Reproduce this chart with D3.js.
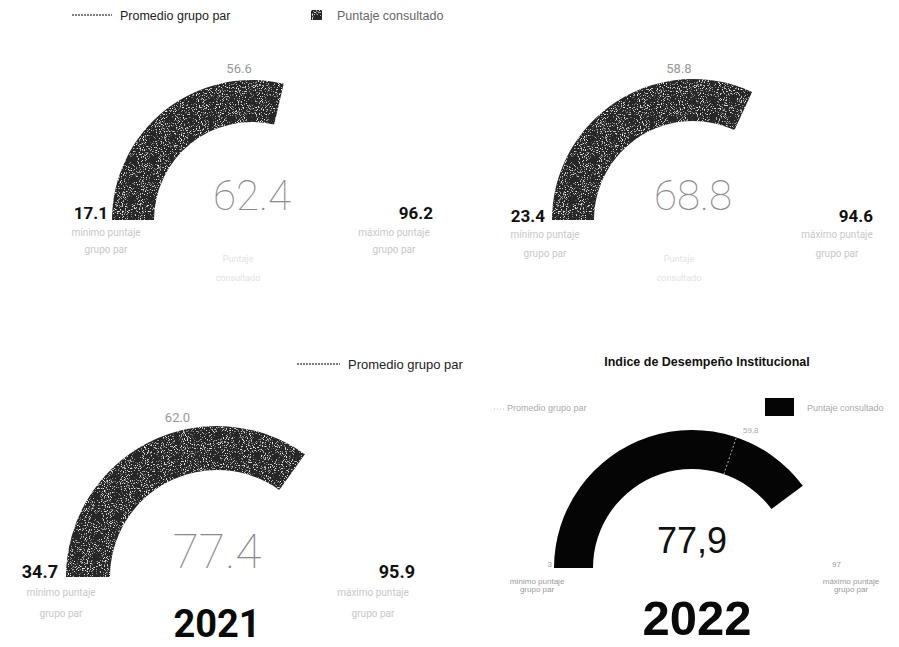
<!DOCTYPE html>
<html>
<head>
<meta charset="utf-8">
<script src="https://cdn.jsdelivr.net/npm/d3@7"></script>
<style>
  body { margin: 0; background: #fff; }
  svg { display: block; }
</style>
</head>
<body>
<svg id="chart" width="899" height="647"></svg>
<script>
// values (top-left, top-right, 2021, 2022)
var legendLabels = ["Promedio grupo par", "Puntaje consultado"];
var minVals   = [17.1, 23.4, 34.7, 3];
var maxVals   = [96.2, 94.6, 95.9, 97];
var scoreVals = [62.4, 68.8, 77.4, 77.9];
var avgVals   = [56.6, 58.8, 62.0, 59.8];
var yearLabels = [null, null, "2021", "2022"];
var minCaption = ["mínimo puntaje", "grupo par"];
var maxCaption = ["máximo puntaje", "grupo par"];
var scoreCaption = ["Puntaje", "consultado"];
var chartTitle = "Indice de Desempeño Institucional";

// layout of each gauge on the page
var layout = [
  {cx: 252, cy: 220, r0: 98,  r1: 140, grain: true,  fill: "#262626",
   numFont: 17, minEnd: 108, maxEnd: 433, numY: 219, subMin: 106, subMax: 394, subY: [236, 253],
   valY: 210, valFont: 42, avgAnchor: "end", avgY: 73, caption: true, dec: "."},
  {cx: 693, cy: 220, r0: 99,  r1: 141, grain: true,  fill: "#262626",
   numFont: 17, minEnd: 545, maxEnd: 873, numY: 222, subMin: 545, subMax: 837, subY: [238, 257],
   valY: 210, valFont: 42, avgAnchor: "end", avgY: 73, caption: true, dec: "."},
  {cx: 217, cy: 577, r0: 107, r1: 151, grain: true,  fill: "#262626",
   numFont: 18, minEnd: 58,  maxEnd: 415, numY: 578, subMin: 61,  subMax: 373, subY: [596, 617],
   valY: 568, valFont: 48, avgAnchor: "end", avgY: 422, caption: false, dec: ".",
   yearY: 637, yearFont: 38},
  {cx: 692, cy: 568, r0: 99,  r1: 138, grain: false, fill: "#050505",
   numFont: 8, minEnd: 552, maxEnd: 841, numY: 567, subMin: 537, subMax: 851, subY: [584, 592],
   valY: 553, valFont: 36, avgAnchor: "start", avgY: 433, caption: false, dec: ",",
   yearY: 635, yearFont: 49}
];

var svg = d3.select("#chart");
var defs = svg.append("defs");

// scanned-print grain for the grey gauges
var grain = defs.append("filter").attr("id", "grain")
  .attr("x", 0).attr("y", 0).attr("width", 1).attr("height", 1);
grain.append("feTurbulence").attr("type", "fractalNoise")
  .attr("baseFrequency", 0.95).attr("numOctaves", 2).attr("seed", 4).attr("result", "noise");
grain.append("feColorMatrix").attr("in", "noise").attr("type", "matrix")
  .attr("values", "0 0 0 0 0.85  0 0 0 0 0.85  0 0 0 0 0.85  6 0 0 0 -3.45").attr("result", "specks");
grain.append("feComposite").attr("in", "specks").attr("in2", "SourceGraphic")
  .attr("operator", "in").attr("result", "specksIn");
var merge = grain.append("feMerge");
merge.append("feMergeNode").attr("in", "SourceGraphic");
merge.append("feMergeNode").attr("in", "specksIn");

var dotFmt = d3.format(".1f");
var commaLocale = d3.formatLocale({decimal: ",", thousands: ".", grouping: [3], currency: ["", ""]});
var commaFmt = commaLocale.format(".1f");

function polar(cx, cy, r, a) {
  return [cx + r * Math.sin(a), cy - r * Math.cos(a)];
}

// top legend (shared by upper gauges)
var topLeg = svg.append("g");
topLeg.append("line").attr("x1", 72).attr("x2", 112).attr("y1", 15).attr("y2", 15)
  .attr("stroke", "#555").attr("stroke-width", 1.5).attr("stroke-dasharray", "2,1");
topLeg.append("text").attr("x", 120).attr("y", 20).text(legendLabels[0])
  .attr("font-family", "Liberation Sans, Arial").attr("font-size", 12.5).attr("fill", "#222");
topLeg.append("rect").attr("x", 311).attr("y", 10).attr("width", 11).attr("height", 10)
  .attr("fill", "#262626").attr("filter", "url(#grain)");
topLeg.append("text").attr("x", 337).attr("y", 20).text(legendLabels[1])
  .attr("font-family", "Liberation Sans, Arial").attr("font-size", 12.5).attr("fill", "#666");

// legend above the 2021 gauge
var midLeg = svg.append("g");
midLeg.append("line").attr("x1", 297).attr("x2", 340).attr("y1", 364).attr("y2", 364)
  .attr("stroke", "#555").attr("stroke-width", 1.5).attr("stroke-dasharray", "2,1");
midLeg.append("text").attr("x", 348).attr("y", 369).text(legendLabels[0])
  .attr("font-family", "Liberation Sans, Arial").attr("font-size", 13).attr("fill", "#222");

// title and legend of the 2022 gauge
svg.append("text").attr("x", 707).attr("y", 366).attr("text-anchor", "middle").text(chartTitle)
  .attr("font-family", "Liberation Sans, Arial").attr("font-weight", "bold")
  .attr("font-size", 12.5).attr("fill", "#111");
var leg4 = svg.append("g");
leg4.append("line").attr("x1", 494).attr("x2", 504).attr("y1", 409).attr("y2", 409)
  .attr("stroke", "#bbb").attr("stroke-width", 1).attr("stroke-dasharray", "1,2");
leg4.append("text").attr("x", 507).attr("y", 411).text(legendLabels[0])
  .attr("font-family", "Liberation Sans, Arial").attr("font-size", 9).attr("fill", "#aaa");
leg4.append("rect").attr("x", 765).attr("y", 398).attr("width", 29).attr("height", 18).attr("fill", "#050505");
leg4.append("text").attr("x", 807).attr("y", 411).text(legendLabels[1])
  .attr("font-family", "Liberation Sans, Arial").attr("font-size", 9).attr("fill", "#aaa");

layout.forEach(function(L, i) {
  var g = svg.append("g");
  var fmt = L.dec === "," ? commaFmt : dotFmt;
  var endFmt = i === 3 ? d3.format("d") : fmt;
  var angle = d3.scaleLinear().domain([minVals[i], maxVals[i]]).range([-Math.PI / 2, Math.PI / 2]);
  var isDin = i < 3;
  var numFamily = isDin ? "Roboto, sans-serif" : "Liberation Sans, Arial";

  var arc = d3.arc().innerRadius(L.r0).outerRadius(L.r1)
    .startAngle(angle(minVals[i])).endAngle(angle(scoreVals[i]));
  g.append("path").attr("d", arc()).attr("transform", "translate(" + L.cx + "," + L.cy + ")")
    .attr("fill", L.fill).attr("filter", L.grain ? "url(#grain)" : null);

  // peer-group average marker
  var a = angle(avgVals[i]);
  var p0 = polar(L.cx, L.cy, L.r0, a), p1 = polar(L.cx, L.cy, L.r1, a);
  g.append("line").attr("x1", p0[0]).attr("y1", p0[1]).attr("x2", p1[0]).attr("y2", p1[1])
    .attr("stroke", isDin ? "#4a4a4a" : "#aaa").attr("stroke-width", 1).attr("stroke-dasharray", "2,2");
  var pl = polar(L.cx, L.cy, L.r1 + 8, a);
  g.append("text").attr("x", pl[0] + (L.avgAnchor === "start" ? 4 : 0)).attr("y", L.avgY)
    .attr("text-anchor", L.avgAnchor).text(fmt(avgVals[i]))
    .attr("font-family", numFamily).attr("font-size", isDin ? 13 : 8).attr("fill", isDin ? "#999" : "#aaa");

  // min / max values and captions
  g.append("text").attr("x", L.minEnd).attr("y", L.numY).attr("text-anchor", "end")
    .text(endFmt(minVals[i])).attr("font-family", numFamily)
    .attr("font-weight", isDin ? "bold" : "normal").attr("font-size", L.numFont)
    .attr("fill", isDin ? "#111" : "#999");
  g.append("text").attr("x", L.maxEnd).attr("y", L.numY).attr("text-anchor", "end")
    .text(endFmt(maxVals[i])).attr("font-family", numFamily)
    .attr("font-weight", isDin ? "bold" : "normal").attr("font-size", L.numFont)
    .attr("fill", isDin ? "#111" : "#999");
  [minCaption, maxCaption].forEach(function(cap, k) {
    cap.forEach(function(line, j) {
      g.append("text").attr("x", k === 0 ? L.subMin : L.subMax).attr("y", L.subY[j])
        .attr("text-anchor", "middle").text(line)
        .attr("font-family", numFamily).attr("font-size", isDin ? 10 : 8)
        .attr("fill", isDin ? "#c8c8c8" : "#9a9a9a");
    });
  });

  // consulted score
  g.append("text").attr("x", L.cx).attr("y", L.valY).attr("text-anchor", "middle")
    .text(fmt(scoreVals[i])).attr("font-family", numFamily)
    .attr("font-weight", isDin ? 100 : "normal").attr("font-size", L.valFont)
    .attr("fill", isDin ? "#8a8a8a" : "#111");
  if (L.caption) {
    scoreCaption.forEach(function(line, j) {
      g.append("text").attr("x", L.cx - 14).attr("y", 262 + j * 19).attr("text-anchor", "middle")
        .text(line).attr("font-family", numFamily).attr("font-size", 9).attr("fill", "#e2e2e2");
    });
  }

  if (yearLabels[i]) {
    g.append("text").attr("x", L.cx + (isDin ? 0 : 5)).attr("y", L.yearY).attr("text-anchor", "middle")
      .text(yearLabels[i]).attr("font-family", numFamily).attr("font-weight", "bold")
      .attr("font-size", L.yearFont).attr("fill", "#0a0a0a");
  }
});
</script>
</body>
</html>
